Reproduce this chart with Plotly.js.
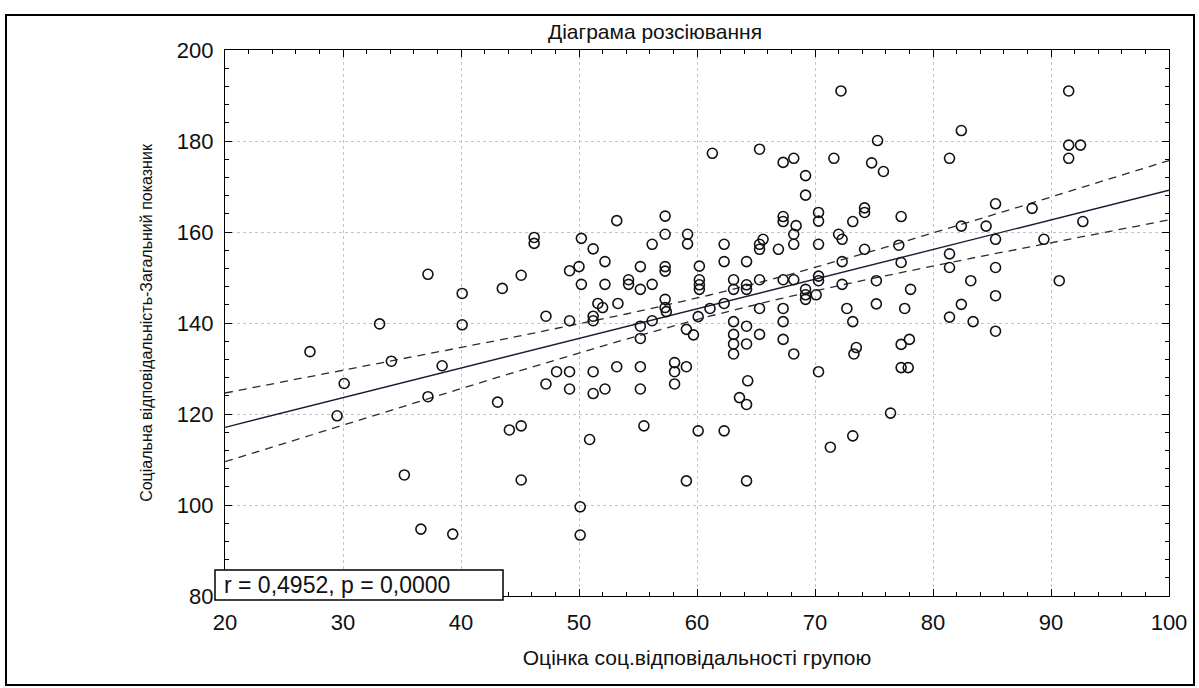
<!DOCTYPE html>
<html>
<head>
<meta charset="utf-8">
<script src="https://cdn.plot.ly/plotly-3.0.1.min.js"></script>
<style>
  html, body { margin: 0; padding: 0; background: #fff; }
  #wrap { position: relative; width: 1199px; height: 688px; }
  #chart { width: 1199px; height: 688px; }
  #frame { position: absolute; left: 5px; top: 14px; width: 1186px; height: 668px;
           border: 2px solid #000; pointer-events: none; }
</style>
</head>
<body>
<div id="wrap">
  <div id="chart"></div>
  <div id="frame"></div>
</div>
<script>
// ---- data ----
const chartTitle = "Діаграма розсіювання";
const xTitle = "Оцінка соц.відповідальності групою";
const yTitle = "Соціальна відповідальність-Загальний показник";
const statText = "r = 0,4952, p = 0,0000";

const xTickVals = [20, 30, 40, 50, 60, 70, 80, 90, 100];
const yTickVals = [80, 100, 120, 140, 160, 180, 200];

const groupScore = [
  27.2, 33.1, 40.1, 34.1, 38.4, 30.1, 37.2, 29.5, 35.2, 36.6, 39.3, 37.2, 40.1,
  57.3, 53.2, 57.3, 59.2, 59.2, 46.2, 46.2, 50.2, 51.2, 56.2, 52.2, 49.2, 50.0,
  55.2, 57.3, 57.3, 45.1, 43.5, 50.2, 52.2, 54.2, 54.2, 55.2, 56.2, 51.6, 52.0,
  53.3, 47.2, 49.2, 51.2, 51.2, 57.3, 57.3, 57.4, 56.2, 55.2, 55.2, 59.1, 59.7,
  60.1, 48.1, 49.2, 51.2, 53.2, 55.2, 58.1, 58.1, 59.1, 47.2, 49.2, 51.2, 52.2,
  55.2, 58.1, 43.1,
  44.1, 45.1, 50.9, 55.5, 60.1, 45.1, 59.1, 50.1, 50.1,
  72.2, 75.3, 61.3, 65.3, 67.3, 68.2, 71.6, 74.8, 75.8, 69.2, 69.2, 67.3, 67.3,
  68.4, 70.3, 70.3, 73.2, 74.2, 74.2, 77.3, 62.3, 65.3, 65.6, 65.3, 66.9, 68.2,
  68.2, 70.3, 72.0, 72.3, 74.2, 77.1, 62.3, 64.2, 72.3,
  60.2, 77.3, 60.2, 60.2, 60.2, 63.1, 63.1, 64.2, 64.2, 65.3, 67.3, 68.2, 70.3,
  70.3, 69.2, 69.2, 69.2, 70.1, 72.3, 75.2, 78.1, 61.1, 62.3, 65.3, 67.3, 72.7,
  75.2, 77.6, 63.1, 64.2, 67.3, 73.2, 63.1, 65.3, 63.1, 64.2, 63.1, 67.3, 68.2,
  73.5, 73.3, 77.3, 78.0, 77.3, 77.9, 70.3, 64.3, 63.6, 64.2, 76.4, 62.3, 73.2,
  71.3, 64.2,
  91.5, 82.4, 81.4, 91.5, 92.5, 91.5, 85.3, 88.4, 82.4, 84.5, 85.3, 89.4, 92.7,
  81.4, 81.4, 85.3, 83.2, 90.7, 85.3, 82.4, 81.4, 83.4, 85.3
];

const totalScore = [
  133.7, 139.8, 139.6, 131.6, 130.6, 126.7, 123.8, 119.6, 106.6, 94.7, 93.6, 150.7, 146.5,
  163.5, 162.5, 159.5, 159.5, 157.4, 158.8, 157.5, 158.6, 156.3, 157.3, 153.5, 151.5, 152.4,
  152.4, 152.4, 151.4, 150.5, 147.6, 148.5, 148.5, 149.5, 148.5, 147.4, 148.5, 144.3, 143.4,
  144.3, 141.5, 140.5, 141.5, 140.5, 145.2, 143.4, 142.5, 140.5, 139.3, 136.6, 138.6, 137.4,
  141.4, 129.3, 129.3, 129.3, 130.4, 130.4, 131.3, 129.3, 130.4, 126.6, 125.5, 124.5, 125.5,
  125.5, 126.6, 122.6,
  116.5, 117.4, 114.4, 117.4, 116.3, 105.5, 105.3, 99.6, 93.4,
  191.0, 180.1, 177.3, 178.2, 175.3, 176.2, 176.2, 175.2, 173.3, 172.4, 168.1, 163.4, 162.3,
  161.4, 164.3, 162.4, 162.3, 165.3, 164.3, 163.4, 157.3, 157.3, 158.4, 156.2, 156.2, 159.5,
  157.3, 157.3, 159.5, 158.4, 156.2, 157.1, 153.5, 153.5, 153.5,
  152.5, 153.3, 149.5, 148.4, 147.4, 149.5, 147.4, 148.4, 147.4, 149.5, 149.5, 149.5, 150.3,
  149.3, 147.4, 146.2, 145.2, 146.2, 148.5, 149.3, 147.4, 143.2, 144.3, 143.2, 143.2, 143.2,
  144.2, 143.2, 140.3, 139.3, 140.3, 140.3, 137.5, 137.5, 135.4, 135.4, 133.2, 136.4, 133.2,
  134.6, 133.2, 135.3, 136.4, 130.2, 130.2, 129.3, 127.3, 123.6, 122.1, 120.2, 116.3, 115.2,
  112.7, 105.3,
  191.0, 182.3, 176.2, 179.1, 179.1, 176.2, 166.2, 165.2, 161.3, 161.3, 158.4, 158.4, 162.3,
  155.2, 152.2, 152.2, 149.3, 149.3, 146.0, 144.1, 141.3, 140.3, 138.2
];

// ---- linear regression and 95% confidence band computed from the points ----
const n = groupScore.length;
const mx = groupScore.reduce((s, v) => s + v, 0) / n;
const my = totalScore.reduce((s, v) => s + v, 0) / n;
let sxx = 0, sxy = 0;
for (let i = 0; i < n; i++) {
  sxx += (groupScore[i] - mx) ** 2;
  sxy += (groupScore[i] - mx) * (totalScore[i] - my);
}
const slope = sxy / sxx;
const intercept = my - slope * mx;
let sse = 0;
for (let i = 0; i < n; i++) sse += (totalScore[i] - intercept - slope * groupScore[i]) ** 2;
const se = Math.sqrt(sse / (n - 2));
const tCrit = 1.9727;
const fitX = [], fitY = [], upY = [], loY = [];
for (let x = 20; x <= 100; x += 1) {
  const yh = intercept + slope * x;
  const h = tCrit * se * Math.sqrt(1 / n + (x - mx) ** 2 / sxx);
  fitX.push(x); fitY.push(yh); upY.push(yh + h); loY.push(yh - h);
}

const FONT = "Liberation Sans, Arial, sans-serif";

const traces = [
  { x: fitX, y: upY, mode: "lines", line: { color: "#2a2a3a", width: 1.3, dash: "8px,6px" }, hoverinfo: "skip", showlegend: false },
  { x: fitX, y: loY, mode: "lines", line: { color: "#2a2a3a", width: 1.3, dash: "8px,6px" }, hoverinfo: "skip", showlegend: false },
  { x: fitX, y: fitY, mode: "lines", line: { color: "#1a1a33", width: 1.4 }, hoverinfo: "skip", showlegend: false },
  { x: groupScore, y: totalScore, mode: "markers", showlegend: false,
    marker: { symbol: "circle-open", size: 10, color: "#111", line: { width: 1.6 } } }
];

const axisCommon = {
  showline: true, linecolor: "#000", linewidth: 1.2, mirror: "allticks",
  ticks: "inside", ticklen: 7, tickcolor: "#000", tickwidth: 1,
  showgrid: true, gridcolor: "#c4c4c4", griddash: "dot", gridwidth: 1,
  zeroline: false, tickfont: { family: FONT, size: 22, color: "#111" },
  automargin: false
};

const layout = {
  width: 1199, height: 688,
  margin: { l: 225, r: 30, t: 50, b: 92 },
  paper_bgcolor: "#fff", plot_bgcolor: "#fff",
  title: { text: chartTitle, font: { family: FONT, size: 21, color: "#111" },
           x: 0.4555, xref: "paper", xanchor: "center", y: 0.954, yref: "container", yanchor: "middle" },
  xaxis: Object.assign({}, axisCommon, {
    range: [20, 100], tickvals: xTickVals, ticklabelstandoff: 6,
    minor: { dtick: 2, ticks: "inside", ticklen: 4, tickcolor: "#000", showgrid: false },
    title: { text: xTitle, font: { family: FONT, size: 21, color: "#111" }, standoff: 16 }
  }),
  yaxis: Object.assign({}, axisCommon, {
    range: [80, 200], tickvals: yTickVals, ticklabelstandoff: 6,
    minor: { dtick: 4, ticks: "inside", ticklen: 4, tickcolor: "#000", showgrid: false },
    title: { text: yTitle, font: { family: FONT, size: 16, color: "#111" }, standoff: 20 }
  }),
  shapes: [
    { type: "rect", xref: "paper", yref: "paper", x0: -0.0106, x1: 0.2945, y0: -0.0073, y1: 0.0476,
      fillcolor: "#fff", line: { color: "#000", width: 1.5 }, layer: "above" }
  ],
  annotations: [
    { text: statText, xref: "paper", yref: "paper", x: -0.003, y: 0.02, xanchor: "left", yanchor: "middle",
      showarrow: false, font: { family: FONT, size: 23, color: "#111" } }
  ]
};

Plotly.newPlot("chart", traces, layout, { staticPlot: true, displayModeBar: false });
</script>
</body>
</html>
